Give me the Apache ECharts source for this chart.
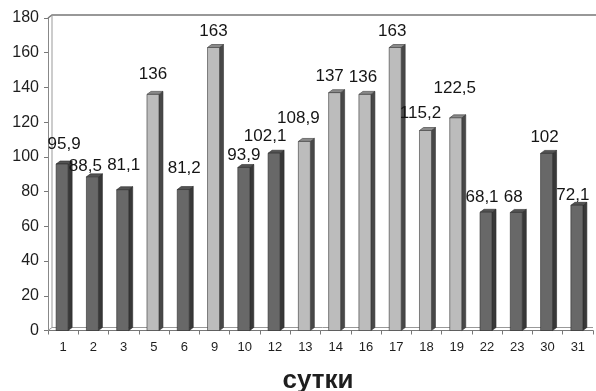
<!DOCTYPE html>
<html>
<head>
<meta charset="utf-8">
<script src="https://cdn.jsdelivr.net/npm/echarts@6/dist/echarts.min.js"></script>
<style>
  html, body { margin: 0; padding: 0; background: #fff; }
  #chart { width: 596px; height: 391px; }
</style>
</head>
<body>
<div id="chart"></div>
<script>
// Days of the month with a measurement
const days = ['1', '2', '3', '5', '6', '9', '10', '12', '13', '14', '16', '17', '18', '19', '22', '23', '30', '31'];
// Daily values
const values = [95.9, 88.5, 81.1, 136, 81.2, 163, 93.9, 102.1, 108.9, 137, 136, 163, 115.2, 122.5, 68.1, 68, 102, 72.1];
// Bar group per day: 0 = dark bars, 1 = light bars
const groups = [0, 0, 0, 1, 0, 1, 0, 0, 1, 1, 1, 1, 1, 1, 0, 0, 0, 0];
// Value axis ticks
const yTicks = { min: 0, max: 180, interval: 20 };

// Per-label nudges [dx, dy above bar top], purely cosmetic placement
const labelShift = [
  [1, 20], [-8, 11], [0, 24], [-1, 20], [0, 21], [-1, 16], [-1, 12], [-10, 17], [-7, 23],
  [-6, 16], [-3, 17], [-4, 16], [-6, 17], [-2, 30], [-5, 15], [-4, 15], [-3, 16], [-5, 10]
];

const palettes = [
  { front: '#686868', side: '#383838', top: '#535353', edge: '#2b2b2b' },
  { front: '#bcbcbc', side: '#484848', top: '#8a8a8a', edge: '#383838' }
];

const FONT = '"Liberation Sans", Arial, sans-serif';
const fmt = v => String(v).replace('.', ',');

function renderBar(params, api) {
  const i = params.dataIndex;
  const v = api.value(1);
  const base = api.coord([api.value(0), 0]);
  const top = api.coord([api.value(0), v]);
  const cx = base[0] - 1;
  const hw = 6, dx = 4, dy = 3;
  const p = palettes[groups[i]];
  const s = labelShift[i];
  return {
    type: 'group',
    children: [
      {
        type: 'polygon',
        shape: { points: [[cx + hw, top[1]], [cx + hw + dx, top[1] - dy], [cx + hw + dx, base[1] - dy], [cx + hw, base[1]]] },
        style: { fill: p.side, stroke: p.edge, lineWidth: 0.6 }
      },
      {
        type: 'polygon',
        shape: { points: [[cx - hw, top[1]], [cx - hw + dx, top[1] - dy], [cx + hw + dx, top[1] - dy], [cx + hw, top[1]]] },
        style: { fill: p.top, stroke: p.edge, lineWidth: 0.6 }
      },
      {
        type: 'rect',
        shape: { x: cx - hw, y: top[1], width: hw * 2, height: base[1] - top[1] },
        style: { fill: p.front, stroke: p.edge, lineWidth: 0.6 }
      },
      {
        type: 'text',
        z2: 10,
        style: {
          text: fmt(v),
          x: cx + 1 + s[0],
          y: top[1] - s[1],
          align: 'center',
          verticalAlign: 'middle',
          fontFamily: FONT,
          fontSize: 17,
          fill: '#151515'
        }
      }
    ]
  };
}

const chart = echarts.init(document.getElementById('chart'), null, { renderer: 'canvas' });

chart.setOption({
  animation: false,
  backgroundColor: '#ffffff',
  grid: { left: 48, right: 3, top: 18, bottom: 60.5 },
  xAxis: {
    type: 'category',
    data: days,
    axisLine: { show: true, lineStyle: { color: '#777', width: 1 } },
    axisTick: { show: true, length: 4, lineStyle: { color: '#777' } },
    axisLabel: { margin: 10, fontFamily: FONT, fontSize: 13, color: '#1e1e1e' },
    splitLine: { show: false }
  },
  yAxis: {
    type: 'value',
    min: yTicks.min,
    max: yTicks.max,
    interval: yTicks.interval,
    axisLine: { show: true, lineStyle: { color: '#888', width: 1 } },
    axisTick: { show: true, length: 4, lineStyle: { color: '#777' } },
    axisLabel: { margin: 9, fontFamily: FONT, fontSize: 16, color: '#1e1e1e' },
    splitLine: { show: false }
  },
  graphic: [
    // back wall top edge and inner wall edge
    { type: 'polyline', z: 1, shape: { points: [[48, 18], [52, 15], [596, 15]] }, style: { stroke: '#777', lineWidth: 1.5, fill: null } },
    { type: 'line', z: 1, shape: { x1: 52, y1: 15, x2: 52, y2: 327.5 }, style: { stroke: '#999', lineWidth: 1 } },
    // floor back edge
    { type: 'polyline', z: 1, shape: { points: [[48, 330.5], [52, 327.5], [593, 327.5]] }, style: { stroke: '#999', lineWidth: 1, fill: null } },
    // category axis title
    {
      type: 'text',
      style: {
        text: 'сутки',
        x: 318,
        y: 381,
        align: 'center',
        verticalAlign: 'middle',
        fontFamily: FONT,
        fontWeight: 'bold',
        fontSize: 26,
        fill: '#1e1e1e'
      }
    }
  ],
  series: [{
    type: 'custom',
    renderItem: renderBar,
    encode: { x: 0, y: 1 },
    data: values.map((v, i) => [i, v]),
    z: 5
  }]
});
</script>
</body>
</html>
